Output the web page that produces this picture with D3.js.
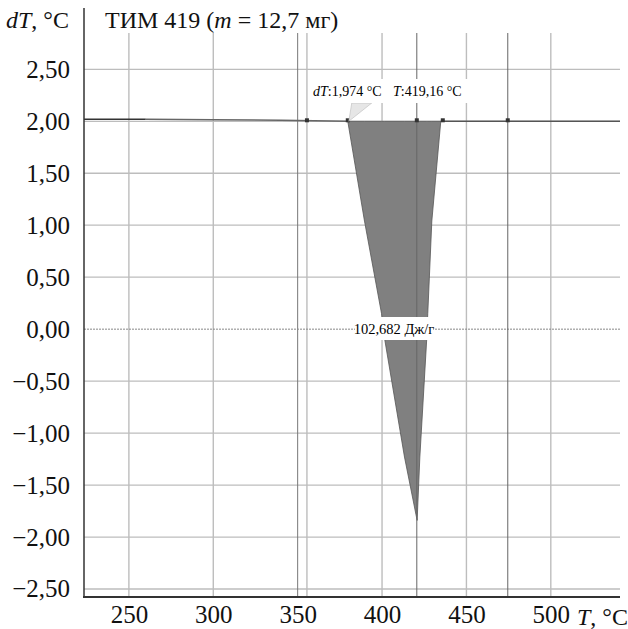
<!DOCTYPE html>
<html>
<head>
<meta charset="utf-8">
<script src="https://cdn.jsdelivr.net/npm/d3@7"></script>
<style>
  body { margin: 0; background: #fff; }
  svg text { font-family: "Liberation Serif", "Times New Roman", serif; }
</style>
</head>
<body>
<div id="chart"></div>
<script>
// DTA curve of sample TIM 419

// ticks
var xTicks = [250, 300, 350, 400, 450, 500];
var yTicks = [2.5, 2.0, 1.5, 1.0, 0.5, 0.0, -0.5, -1.0, -1.5, -2.0, -2.5];

// curve: temperature and dT
var curveT  = [223.4, 260, 300, 340, 379.7, 389.6, 399.7, 401.5, 413.3, 420.8, 422.4, 426.5, 427.1, 429.5, 434.8, 436, 474.5, 541];
var curveDT = [2.02, 2.02, 2.015, 2.01, 2.0, 1.04, 0.15, -0.09, -1.23, -1.84, -1.23, -0.09, 0.15, 1.04, 2.0, 2.0, 2.0, 2.0];

// cursor marks on the curve and extra vertical lines
var markT = [355.5, 379.7, 420.6, 436, 474.5];
var lightLines = [355.5];
var darkLines = [420.6, 474.5];

var peakStart = 4, peakEnd = 14; // index range of the peak
var energyLabel = "102,682 Дж/г";

var width = 628, height = 629;
var serif = "Liberation Serif";

var svg = d3.select("#chart").append("svg")
  .attr("width", width)
  .attr("height", height);

var x = d3.scaleLinear().domain([223.4, 541]).range([84, 620]);
var y = d3.scaleLinear().domain([-2.577, 3.09]).range([597, 8]);
var gridTop = 33;

var loc = d3.formatLocale({decimal: ",", thousands: " ", grouping: [3], currency: ["", ""], minus: "\u2212"});
var fmt = loc.format(".2f");

// horizontal grid
svg.append("g")
  .selectAll("line")
  .data(yTicks.filter(function(d) { return d !== 0; }))
  .enter().append("line")
    .attr("x1", 84).attr("x2", 620)
    .attr("y1", function(d) { return y(d); })
    .attr("y2", function(d) { return y(d); })
    .attr("stroke", "#bdbdbd")
    .attr("stroke-width", 1.3);

// vertical grid
svg.append("g")
  .selectAll("line")
  .data(xTicks.concat(lightLines))
  .enter().append("line")
    .attr("x1", function(d) { return x(d); })
    .attr("x2", function(d) { return x(d); })
    .attr("y1", gridTop).attr("y2", 597)
    .attr("stroke", function(d) { return d === 350 ? "#777" : "#bdbdbd"; })
    .attr("stroke-width", function(d) { return d === 350 ? 1 : 1.4; });

// zero line, dotted
svg.append("line")
  .attr("x1", 84).attr("x2", 620)
  .attr("y1", y(0)).attr("y2", y(0))
  .attr("stroke", "#888")
  .attr("stroke-width", 1)
  .attr("stroke-dasharray", "2,1");

var pts = curveT.map(function(t, i) { return [t, curveDT[i]]; });
var peak = pts.slice(peakStart, peakEnd + 1);

// filled peak
var area = d3.area()
  .x(function(d) { return x(d[0]); })
  .y0(y(2.0))
  .y1(function(d) { return y(d[1]); });
svg.append("path")
  .datum(peak)
  .attr("d", area)
  .attr("fill", "#808080")
  .attr("stroke", "#555")
  .attr("stroke-width", 0.8);

// dark vertical lines
svg.append("g")
  .selectAll("line")
  .data(darkLines)
  .enter().append("line")
    .attr("x1", function(d) { return x(d); })
    .attr("x2", function(d) { return x(d); })
    .attr("y1", gridTop).attr("y2", 597)
    .attr("stroke", "#666")
    .attr("stroke-width", 1);

// baseline parts of the curve
var line = d3.line()
  .x(function(d) { return x(d[0]); })
  .y(function(d) { return y(d[1]); });
svg.append("path")
  .datum(pts.slice(0, 2))
  .attr("d", line)
  .attr("fill", "none")
  .attr("stroke", "#333")
  .attr("stroke-width", 1.5);
svg.append("path")
  .datum(pts.slice(1, peakStart + 1))
  .attr("d", line)
  .attr("fill", "none")
  .attr("stroke", "#666")
  .attr("stroke-width", 1.5);
svg.append("path")
  .datum(pts.slice(peakEnd))
  .attr("d", line)
  .attr("fill", "none")
  .attr("stroke", "#555")
  .attr("stroke-width", 1.5);

// cursor marks
svg.append("g")
  .selectAll("rect")
  .data(markT)
  .enter().append("rect")
    .attr("x", function(d) { return x(d) - 2; })
    .attr("y", y(2.0) - 3)
    .attr("width", 4).attr("height", 4)
    .attr("fill", "#333");

// callout for the cursor reading
var px = x(curveT[peakStart]), py = y(curveDT[peakStart]);
svg.append("path")
  .attr("d", "M" + (px + 1) + "," + py + "L" + (px + 4) + ",103L" + (px + 24) + ",103Z")
  .attr("fill", "#e6e6e6")
  .attr("stroke", "#bbb")
  .attr("stroke-width", 0.6);
svg.append("rect")
  .attr("x", 309).attr("y", 79).attr("width", 166).attr("height", 24)
  .attr("fill", "#fff");
var c1 = svg.append("text")
  .attr("x", 313).attr("y", 96)
  .attr("font-size", 14)
  .attr("font-family", serif);
c1.append("tspan").attr("font-style", "italic").text("dT");
c1.append("tspan").text(":1,974 °C");
var c2 = svg.append("text")
  .attr("x", 393).attr("y", 96)
  .attr("font-size", 14)
  .attr("font-family", serif);
c2.append("tspan").attr("font-style", "italic").text("T");
c2.append("tspan").text(":419,16 °C");

// energy label
svg.append("rect")
  .attr("x", 355).attr("y", 317).attr("width", 78).attr("height", 23)
  .attr("fill", "#fff");
svg.append("text")
  .attr("x", 394).attr("y", 334)
  .attr("text-anchor", "middle")
  .attr("font-size", 14.5)
  .attr("font-family", serif)
  .text(energyLabel);

// axes lines
svg.append("line")
  .attr("x1", 84).attr("x2", 84)
  .attr("y1", 8).attr("y2", 598)
  .attr("stroke", "#333").attr("stroke-width", 1.5);
svg.append("line")
  .attr("x1", 83).attr("x2", 620)
  .attr("y1", 597).attr("y2", 597)
  .attr("stroke", "#333").attr("stroke-width", 2);

// y tick labels
svg.append("g")
  .attr("transform", "translate(84,0)")
  .call(d3.axisLeft(y).tickValues(yTicks).tickSize(0).tickPadding(14).tickFormat(fmt))
  .call(function(g) { g.select(".domain").remove(); })
  .attr("font-family", serif)
  .attr("font-size", 25)
  .selectAll("text")
    .attr("fill", "#111");

// x tick labels
svg.append("g")
  .attr("transform", "translate(0,597)")
  .call(d3.axisBottom(x).tickValues(xTicks).tickSize(0).tickPadding(8).tickFormat(d3.format("d")))
  .call(function(g) { g.select(".domain").remove(); })
  .attr("font-family", serif)
  .attr("font-size", 25)
  .selectAll("text")
    .attr("fill", "#111");

// axis titles
var yl = svg.append("text").attr("x", 6).attr("y", 28).attr("font-size", 24).attr("font-family", serif).attr("fill", "#111");
yl.append("tspan").attr("font-style", "italic").text("dT");
yl.append("tspan").text(", °C");

var xl = svg.append("text").attr("x", 577).attr("y", 625).attr("font-size", 24).attr("font-family", serif).attr("fill", "#111");
xl.append("tspan").attr("font-style", "italic").text("T");
xl.append("tspan").text(", °C");

var tl = svg.append("text").attr("x", 105).attr("y", 28).attr("font-size", 24).attr("font-family", serif).attr("fill", "#111");
tl.append("tspan").text("ТИМ 419 (");
tl.append("tspan").attr("font-style", "italic").text("m");
tl.append("tspan").text(" = 12,7 мг)");
</script>
</body>
</html>
